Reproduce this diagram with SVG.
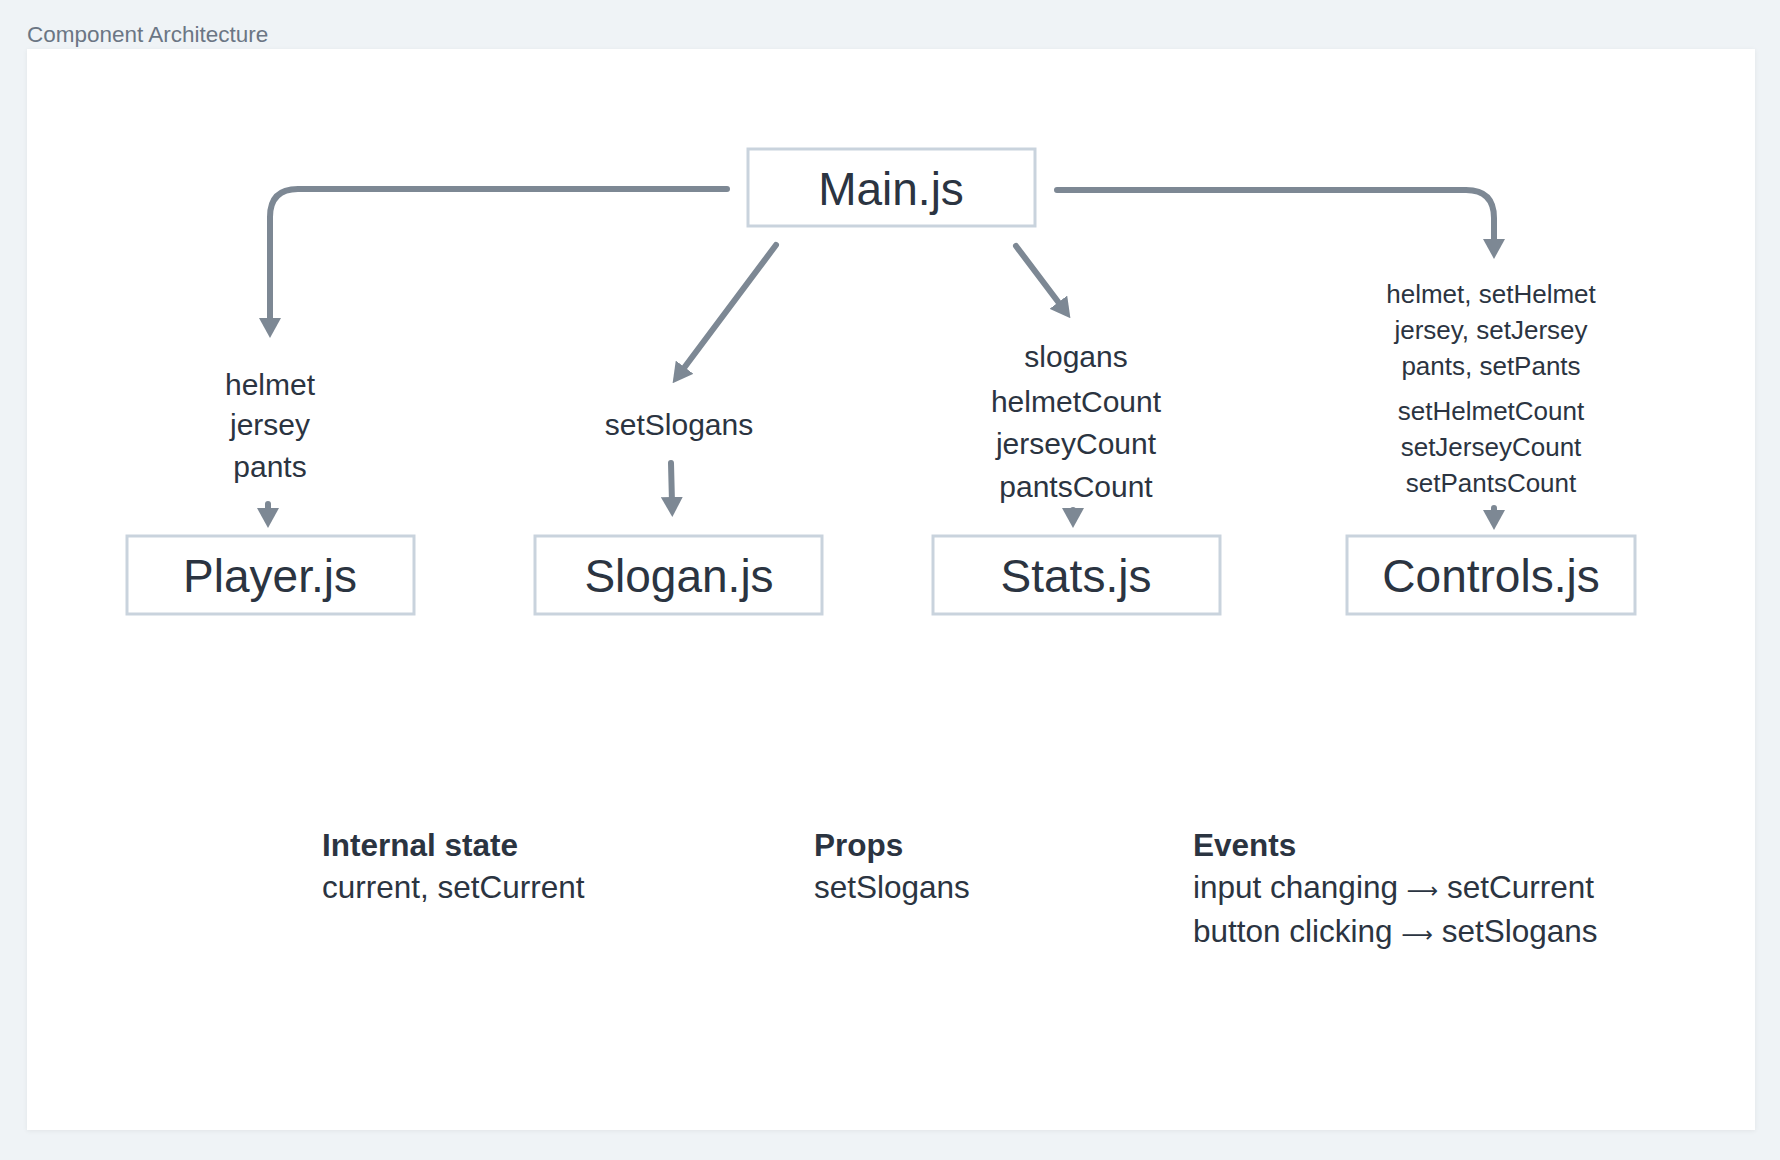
<svg xmlns="http://www.w3.org/2000/svg" width="1780" height="1160" viewBox="0 0 1780 1160">
<defs>
<filter id="sh" x="-5%" y="-5%" width="110%" height="110%"><feDropShadow dx="0" dy="1" stdDeviation="2" flood-color="#000" flood-opacity="0.06"/></filter>
<marker id="ah" viewBox="0 0 20 22" markerUnits="userSpaceOnUse" markerWidth="20" markerHeight="22" refX="6" refY="11" orient="auto"><path d="M0,0 L20,11 L0,22 z" fill="#7d8894"/></marker>
</defs>
<style>
.box{fill:#fff;stroke:#c9d3dd;stroke-width:3}
.bt{font-family:"Liberation Sans",Arial,sans-serif;font-size:46px;fill:#2b3441;text-anchor:middle}
.lb{font-family:"Liberation Sans",Arial,sans-serif;font-size:30px;fill:#2b3441;text-anchor:middle}
.ls{font-family:"Liberation Sans",Arial,sans-serif;font-size:26px;fill:#2b3441;text-anchor:middle}
.ft{font-family:"Liberation Sans",Arial,sans-serif;font-size:31.5px;fill:#2b3441}
.fb{font-weight:bold}
.c{fill:none;stroke:#7d8894;stroke-width:6;stroke-linecap:round;stroke-linejoin:round;marker-end:url(#ah)}
</style>
<rect width="1780" height="1160" fill="#eff3f6"/>
<text x="27" y="42" font-family="'Liberation Sans',Arial,sans-serif" font-size="22.5" fill="#6b7684">Component Architecture</text>
<rect x="27" y="49" width="1728" height="1081" fill="#fff" filter="url(#sh)"/>
<g id="connectors">
<path class="c" d="M727,189 H298 Q270,189 270,217 V324"/>
<path class="c" d="M1057,190 H1466 Q1494,190 1494,218 V245"/>
<path class="c" d="M776,245 L681,372"/>
<path class="c" d="M1016,246 L1062,307"/>
<path class="c" d="M268,504 V514"/>
<path class="c" d="M671,463 L672,503"/>
<path class="c" d="M1073,510 V514"/>
<path class="c" d="M1494,508 V516"/>
</g>
<g id="main"><rect class="box" x="748" y="149" width="287" height="77"/><text class="bt" x="891" y="205">Main.js</text></g>
<g id="player"><rect class="box" x="127" y="536" width="287" height="78"/><text class="bt" x="270" y="592">Player.js</text></g>
<g id="slogan"><rect class="box" x="535" y="536" width="287" height="78"/><text class="bt" x="679" y="592">Slogan.js</text></g>
<g id="stats"><rect class="box" x="933" y="536" width="287" height="78"/><text class="bt" x="1076" y="592">Stats.js</text></g>
<g id="controls"><rect class="box" x="1347" y="536" width="288" height="78"/><text class="bt" x="1491" y="592">Controls.js</text></g>
<g id="player-props">
<text class="lb" x="270" y="395">helmet</text>
<text class="lb" x="270" y="435">jersey</text>
<text class="lb" x="270" y="477">pants</text>
</g>
<g id="slogan-props"><text class="lb" x="679" y="435">setSlogans</text></g>
<g id="stats-props">
<text class="lb" x="1076" y="367">slogans</text>
<text class="lb" x="1076" y="412">helmetCount</text>
<text class="lb" x="1076" y="454">jerseyCount</text>
<text class="lb" x="1076" y="497">pantsCount</text>
</g>
<g id="controls-props">
<text class="ls" x="1491" y="303">helmet, setHelmet</text>
<text class="ls" x="1491" y="339">jersey, setJersey</text>
<text class="ls" x="1491" y="375">pants, setPants</text>
<text class="ls" x="1491" y="420">setHelmetCount</text>
<text class="ls" x="1491" y="456">setJerseyCount</text>
<text class="ls" x="1491" y="492">setPantsCount</text>
</g>
<g id="legend">
<text class="ft fb" x="322" y="856">Internal state</text>
<text class="ft" x="322" y="898">current, setCurrent</text>
<text class="ft fb" x="814" y="856">Props</text>
<text class="ft" x="814" y="898">setSlogans</text>
<text class="ft fb" x="1193" y="856">Events</text>
<text class="ft" x="1193" y="898">input changing <tspan font-family="'DejaVu Sans',sans-serif" font-size="22">⟶</tspan> setCurrent</text>
<text class="ft" x="1193" y="942">button clicking <tspan font-family="'DejaVu Sans',sans-serif" font-size="22">⟶</tspan> setSlogans</text>
</g>
</svg>
